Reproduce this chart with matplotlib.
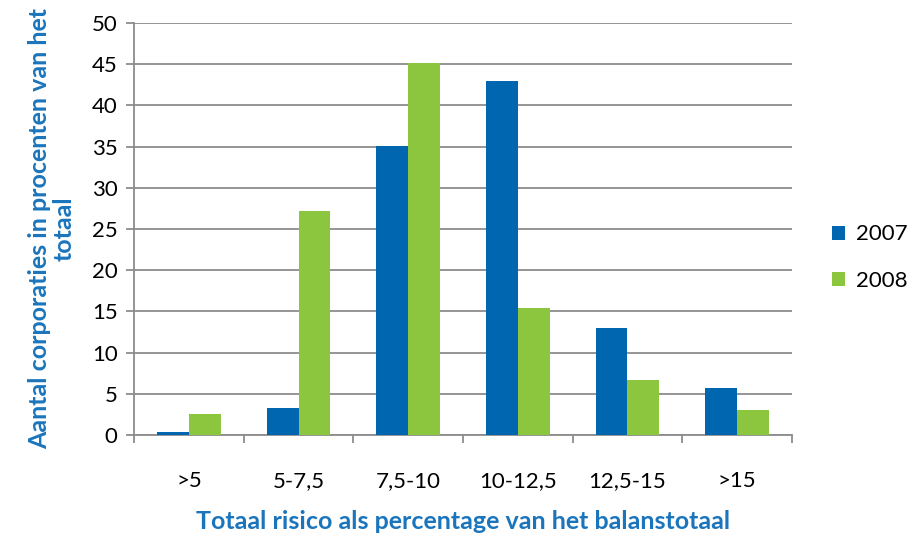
import numpy as np
from matplotlib import pyplot as plt

categories = ['>5', '5-7,5', '7,5-10', '10-12,5', '12,5-15', '>15']
values_2007 = [0.35, 3.3, 35.1, 43.0, 13.0, 5.7]
values_2008 = [2.5, 27.2, 45.1, 15.4, 6.7, 3.0]

plt.rcParams['font.family'] = ['Lato', 'DejaVu Sans']

fig = plt.figure(figsize=(9.07, 5.33), dpi=100)
ax = fig.add_axes([0.148, 0.184, 0.725, 0.773])

x = np.arange(len(categories))
w = 0.29
ax.bar(x - w / 2, values_2007, w, color='#0066b0', label='2007', zorder=3)
ax.bar(x + w / 2, values_2008, w, color='#8cc63f', label='2008', zorder=3)

ax.set_xlim(-0.5, len(categories) - 0.5)
ax.set_ylim(0, 50)
ax.set_yticks(range(0, 51, 5))
ax.yaxis.grid(True, color='#8c8c8c', linewidth=1.3, zorder=0)

ax.set_xticks(x)
ax.set_xticklabels(categories, fontsize=16)
ax.set_xticks(np.arange(-0.5, len(categories)), minor=True)
ax.tick_params(axis='x', which='major', length=0, pad=26)
ax.tick_params(axis='x', which='minor', length=6, width=1.3, color='#8c8c8c')
ax.tick_params(axis='y', length=6, width=1.3, color='#8c8c8c', labelsize=16, pad=6)

for s in ['top', 'right']:
    ax.spines[s].set_visible(False)
for s in ['left', 'bottom']:
    ax.spines[s].set_color('#8c8c8c')
    ax.spines[s].set_linewidth(1.3)

blue = '#1b75bc'
ax.set_ylabel('Aantal corporaties in procenten van het\ntotaal', fontsize=18,
              fontweight='bold', color=blue, labelpad=12, linespacing=1.05)
ax.set_xlabel('Totaal risico als percentage van het balanstotaal', fontsize=18,
              fontweight='bold', color=blue, labelpad=14)

ax.legend(loc='center left', bbox_to_anchor=(1.03, 0.43), frameon=False,
          fontsize=16, handlelength=0.6, handleheight=0.6, labelspacing=1.2,
          handletextpad=0.5)

plt.savefig('out.png', dpi=100)
